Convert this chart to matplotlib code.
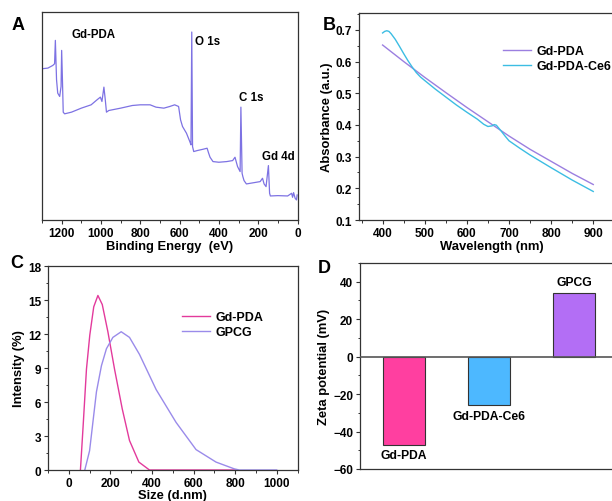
import matplotlib
matplotlib.use("Agg")
import matplotlib.pyplot as plt
from matplotlib.ticker import MultipleLocator

plt.rcParams['font.family'] = ['Liberation Sans', 'DejaVu Sans']
plt.rcParams['font.weight'] = 'bold'
plt.rcParams['axes.labelweight'] = 'bold'

# ---------------- Data ----------------
# Panel A: XPS survey of Gd-PDA (arbitrary intensity units)
xps_be = [1300, 1270, 1245, 1236, 1232, 1226, 1220, 1210, 1203, 1200, 1196, 1192, 1185, 1150,
          1100, 1050, 1020, 1003, 995, 985, 978, 972, 960, 900, 840, 800, 750, 720, 680, 650,
          625, 605, 595, 585, 565, 548, 542, 538, 534, 528, 510, 480, 460, 452, 445, 430, 400,
          360, 330, 318, 305, 292, 288, 282, 278, 272, 260, 220, 190, 178, 170, 160, 148, 142,
          138, 100, 50, 30, 25, 20, 12, 5, 2]
xps_int = [453, 455, 463, 468, 538, 420, 380, 370, 400, 508, 420, 323, 318, 323,
           335, 345, 360, 368, 355, 398, 360, 323, 328, 335, 343, 345, 345, 338, 335, 340,
           345, 340, 300, 280, 260, 235, 225, 563, 220, 205, 208, 212, 215, 200, 188, 175, 173,
           175, 178, 188, 160, 145, 338, 140, 130, 118, 108, 112, 115, 125, 108, 100, 163, 80,
           72, 73, 72, 80, 68, 82, 65, 60, 75]

# Panel B: UV-vis absorbance
wl_pda = [400, 450, 500, 550, 600, 650, 700, 750, 800, 850, 900]
abs_pda = [0.652, 0.600, 0.550, 0.502, 0.455, 0.410, 0.365, 0.323, 0.285, 0.247, 0.212]
wl_ce6 = [400, 405, 410, 415, 420, 430, 440, 450, 460, 470, 480, 490, 500, 525, 550, 575, 600,
          625, 640, 650, 660, 665, 670, 680, 690, 700, 725, 750, 775, 800, 850, 900]
abs_ce6 = [0.690, 0.695, 0.697, 0.695, 0.688, 0.670, 0.648, 0.625, 0.603, 0.583, 0.565, 0.551,
           0.540, 0.513, 0.488, 0.463, 0.440, 0.418, 0.402, 0.395, 0.397, 0.401, 0.399, 0.383,
           0.366, 0.350, 0.327, 0.305, 0.285, 0.265, 0.226, 0.190]

# Panel C: DLS size distribution
size_pda = [56, 69, 85, 101, 120, 140, 161, 188, 220, 257, 292, 337, 388, 800]
int_pda = [0, 3.9, 8.9, 11.9, 14.4, 15.4, 14.6, 12.2, 8.9, 5.4, 2.6, 0.7, 0, 0]
size_gpcg = [77, 100, 133, 157, 181, 212, 252, 292, 340, 420, 516, 612, 708, 796, 820, 1000]
int_gpcg = [0, 1.7, 6.9, 9.2, 10.7, 11.7, 12.2, 11.7, 10.2, 7.1, 4.2, 1.8, 0.7, 0.1, 0, 0]

# Panel D: zeta potential
zeta_names = ['Gd-PDA', 'Gd-PDA-Ce6', 'GPCG']
zeta_vals = [-47, -26, 34]
zeta_colors = ['#FF3FA0', '#4DB8FF', '#B36EF5']

# ---------------- Figure ----------------
W, H = 612, 502
fig = plt.figure(figsize=(W / 100, H / 100), dpi=100)

def pos(l, t, r, b):
    return [l / W, 1 - b / H, (r - l) / W, (b - t) / H]

tick_fs = 8.5
label_fs = 9.4
ann_fs = 8.3
spine_c = '#333333'

def style(ax):
    for s in ax.spines.values():
        s.set_color(spine_c)
        s.set_linewidth(0.9)
    ax.tick_params(which='major', length=3, width=0.8, labelsize=tick_fs, pad=2, color=spine_c)
    ax.tick_params(which='minor', length=1.8, width=0.7, color=spine_c)
    for lab in ax.get_xticklabels() + ax.get_yticklabels():
        lab.set_fontweight('bold')

# Panel A
axA = fig.add_axes(pos(42, 13, 297.5, 221))
axA.plot(xps_be, xps_int, color='#7D72E3', lw=0.9)
axA.set_xlim(1300, 0)
axA.set_ylim(0, 623)
axA.set_yticks([])
axA.xaxis.set_major_locator(MultipleLocator(200))
axA.xaxis.set_minor_locator(MultipleLocator(100))
axA.set_xlabel('Binding Energy  (eV)', fontsize=label_fs, labelpad=1)
style(axA)
axA.text(1036, 558, 'Gd-PDA', fontsize=ann_fs, fontweight='bold', ha='center', va='center')
axA.text(520, 536, 'O 1s', fontsize=ann_fs, fontweight='bold', ha='left', va='center')
axA.text(296, 368, 'C 1s', fontsize=ann_fs, fontweight='bold', ha='left', va='center')
axA.text(181, 191, 'Gd 4d', fontsize=ann_fs, fontweight='bold', ha='left', va='center')

# Panel B
axB = fig.add_axes(pos(359, 14, 624, 221))
axB.plot(wl_pda, abs_pda, color='#9B7FE0', lw=1.0, label='Gd-PDA')
axB.plot(wl_ce6, abs_ce6, color='#3CBDE3', lw=1.0, label='Gd-PDA-Ce6')
axB.set_xlim(344, 973)
axB.set_ylim(0.1, 0.753)
axB.xaxis.set_major_locator(MultipleLocator(100))
axB.xaxis.set_minor_locator(MultipleLocator(50))
axB.yaxis.set_major_locator(MultipleLocator(0.1))
axB.yaxis.set_minor_locator(MultipleLocator(0.05))
axB.set_xlabel('Wavelength (nm)', fontsize=label_fs, labelpad=1)
axB.set_ylabel('Absorbance (a.u.)', fontsize=label_fs, labelpad=2)
style(axB)
axB.legend(loc='upper left', bbox_to_anchor=(503 / W, 1 - 46 / H), bbox_transform=fig.transFigure,
           frameon=False, handlelength=2.2, handletextpad=0.5, labelspacing=0.25,
           borderaxespad=0, borderpad=0, prop={'weight': 'bold', 'size': 9})

# Panel C
axC = fig.add_axes(pos(48, 267, 297.5, 471))
axC.plot(size_pda, int_pda, color='#E33A9C', lw=1.0, label='Gd-PDA')
axC.plot(size_gpcg, int_gpcg, color='#9A8BEA', lw=1.0, label='GPCG')
axC.set_xlim(-100, 1100)
axC.set_ylim(0, 18)
axC.xaxis.set_major_locator(MultipleLocator(200))
axC.xaxis.set_minor_locator(MultipleLocator(100))
axC.yaxis.set_major_locator(MultipleLocator(3))
axC.yaxis.set_minor_locator(MultipleLocator(1.5))
axC.set_xlabel('Size (d.nm)', fontsize=label_fs, labelpad=0)
axC.set_ylabel('Intensity (%)', fontsize=label_fs, labelpad=2)
style(axC)
axC.legend(loc='upper left', bbox_to_anchor=(182 / W, 1 - 312 / H), bbox_transform=fig.transFigure,
           frameon=False, handlelength=2.2, handletextpad=0.5, labelspacing=0.25,
           borderaxespad=0, borderpad=0, prop={'weight': 'bold', 'size': 9})

# Panel D
axD = fig.add_axes(pos(360, 264, 624, 470))
xs = list(range(len(zeta_vals)))
axD.bar(xs, zeta_vals, width=0.5, color=zeta_colors, edgecolor='#333333', linewidth=0.8, zorder=2)
axD.axhline(0, color='#555555', lw=1.2, zorder=3)
axD.set_xlim(-0.518, 2.59)
axD.set_ylim(-60, 50)
axD.set_xticks([])
axD.yaxis.set_major_locator(MultipleLocator(20))
axD.yaxis.set_minor_locator(MultipleLocator(10))
axD.set_ylabel('Zeta potential (mV)', fontsize=label_fs, labelpad=2)
style(axD)
for x, v, n in zip(xs, zeta_vals, zeta_names):
    if v < 0:
        axD.text(x, v - 2.5, n, ha='center', va='top', fontsize=8.7, fontweight='bold')
    else:
        axD.text(x, v + 2.5, n, ha='center', va='bottom', fontsize=8.7, fontweight='bold')

# Panel letters
for lx, ly, letter in [(18, 25, 'A'), (329, 25, 'B'), (17, 264, 'C'), (324, 269, 'D')]:
    fig.text(lx / W, 1 - ly / H, letter, fontsize=13, fontweight='bold', ha='center', va='center')

fig.savefig('out.png', dpi=100)
